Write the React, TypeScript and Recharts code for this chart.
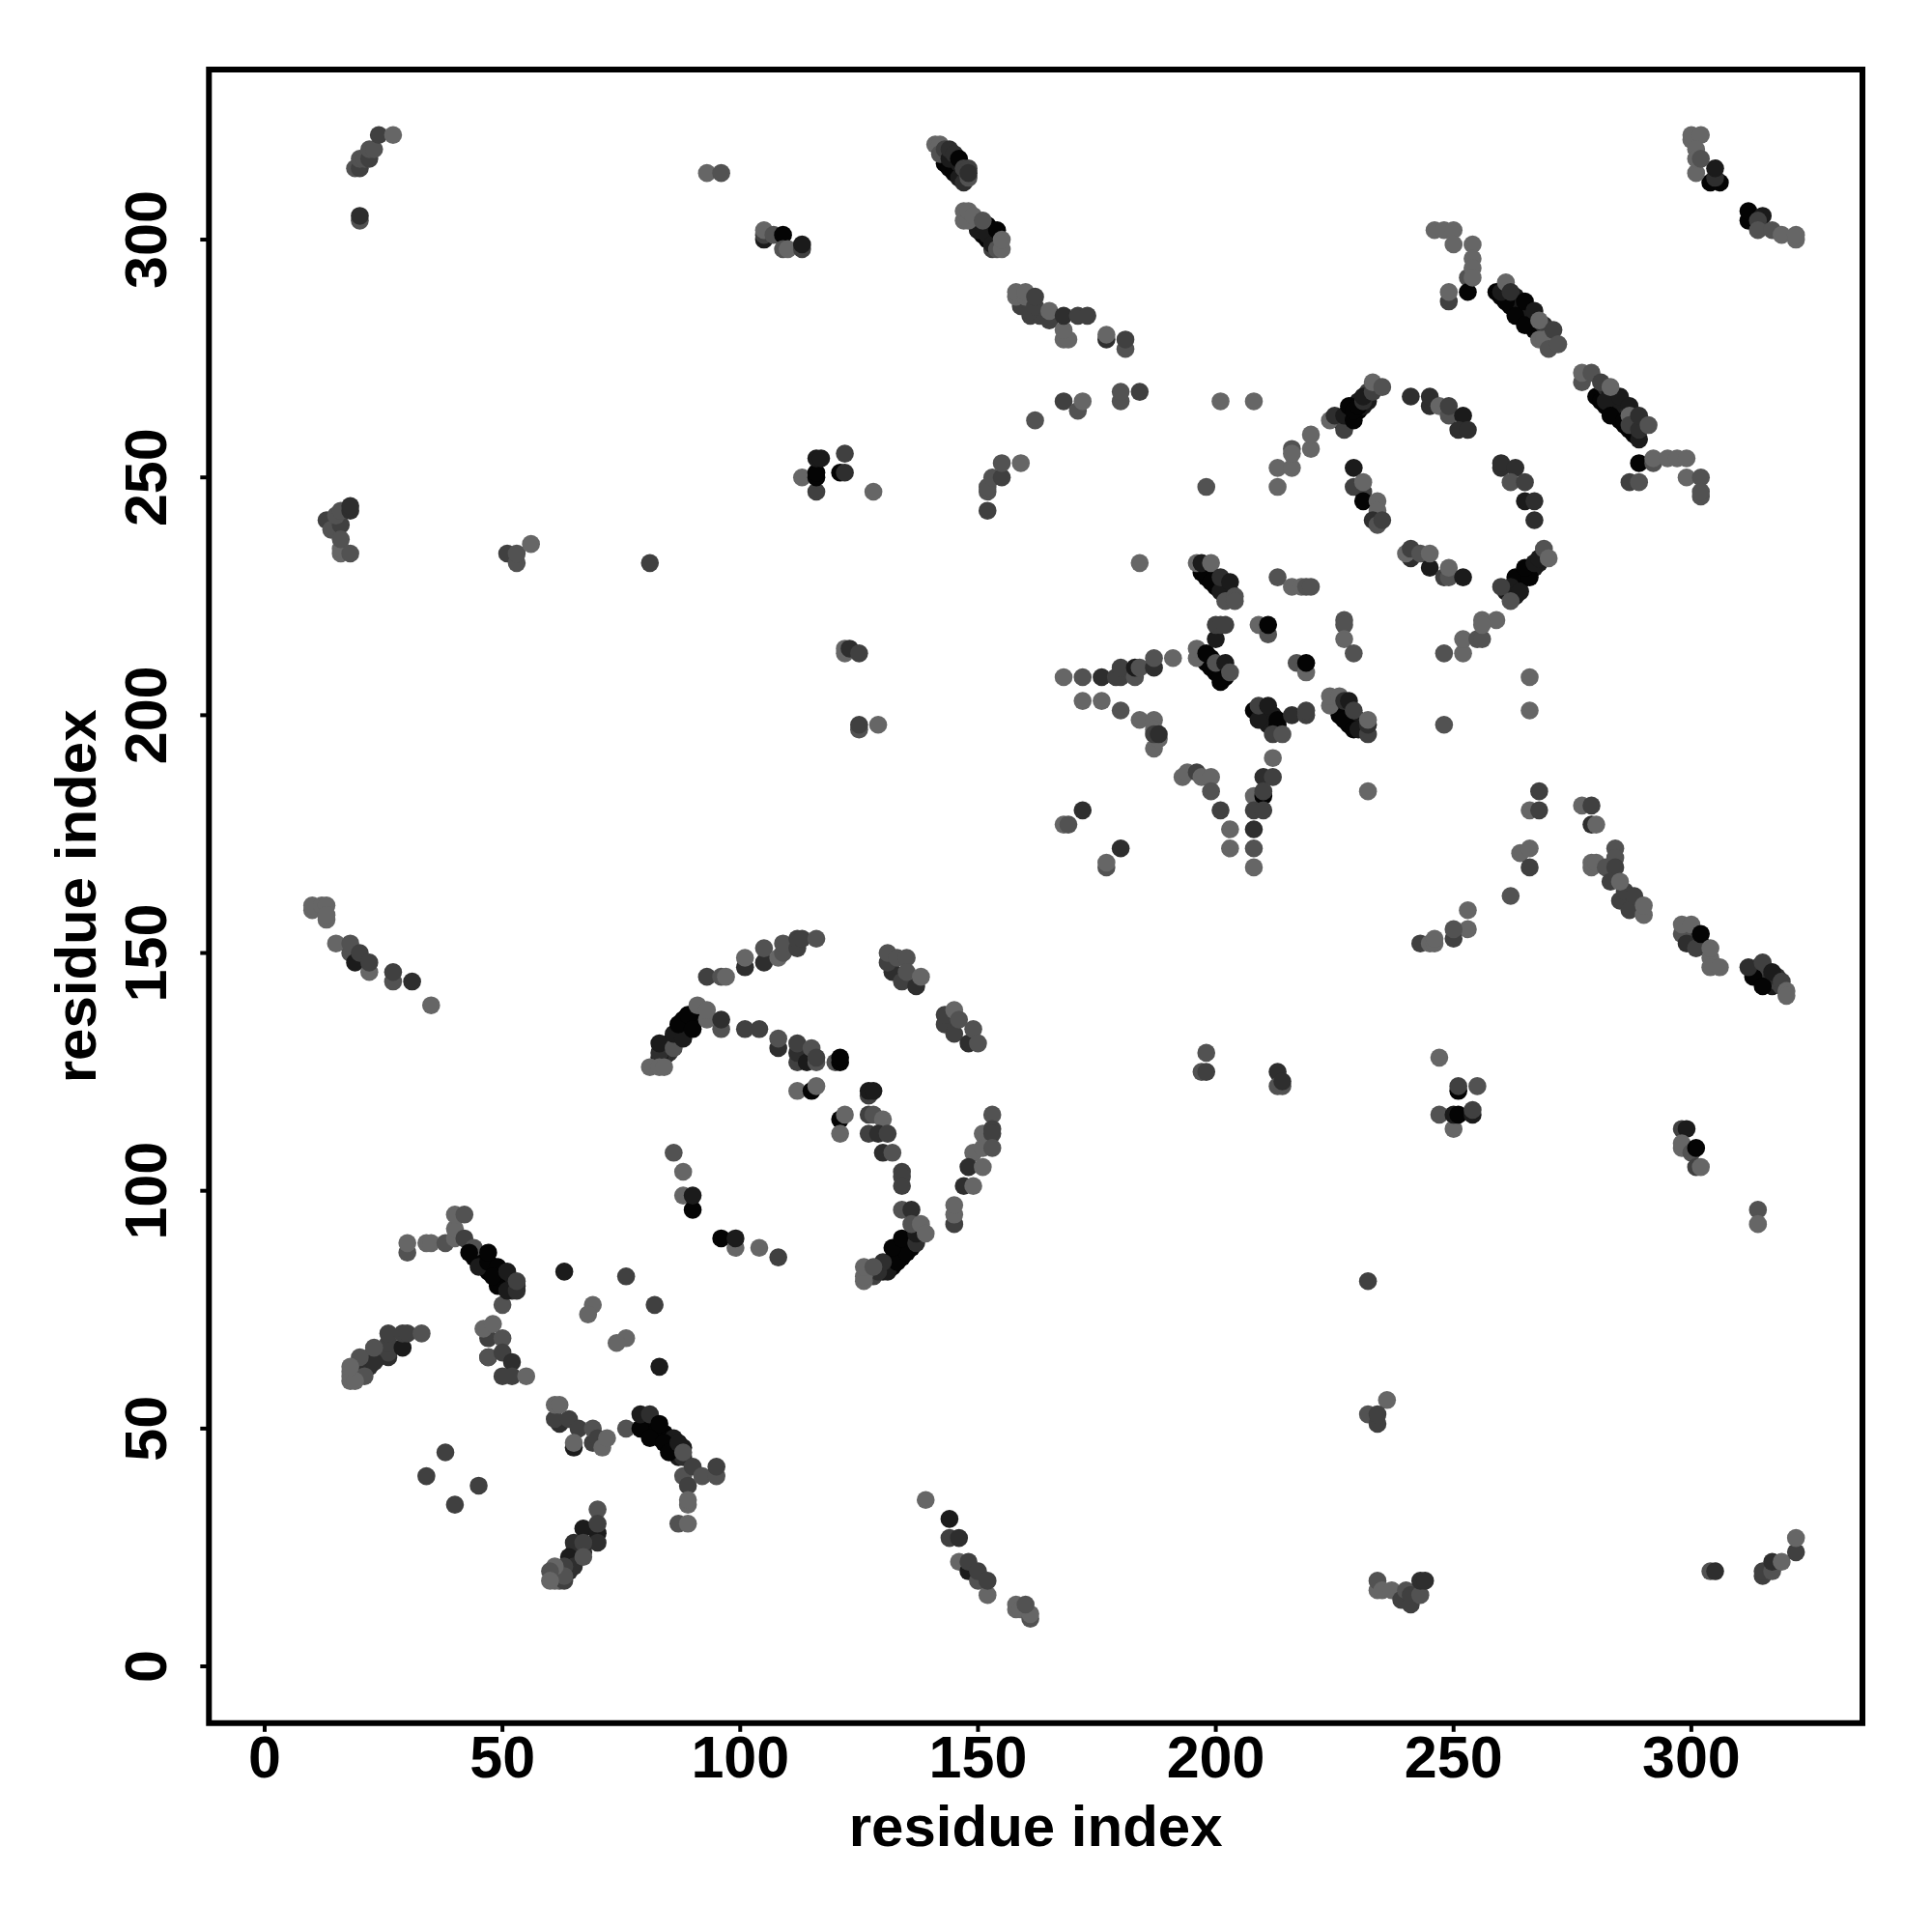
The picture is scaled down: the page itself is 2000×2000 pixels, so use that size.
import { ScatterChart, Scatter, XAxis, YAxis, ReferenceArea, Label } from 'recharts';

// [residue i, residue j, level] - level 0 is the strongest contact (black), 5 the weakest
type Contact = [number, number, number];

const tickValues = [0, 50, 100, 150, 200, 250, 300];
const grays = ['#040404', '#1b1b1b', '#2e2e2e', '#404040', '#525252', '#666666'];
const xDomain = [-11.72, 335.98];
const yDomain = [-11.94, 335.76];

// strong helix contacts that sit underneath the rest of each cluster
const denseBands: Contact[] = [
  [259, 289, 0], [260, 288, 0], [261, 287, 0], [262, 286, 0], [263, 285, 0], [264, 284, 0], [265, 283, 0], [266, 282, 0], [267, 281, 0],
  [263, 288, 1], [264, 287, 1], [266, 285, 1], [267, 284, 1], [269, 282, 2], [270, 281, 3],
  [280, 267, 0], [281, 266, 0], [282, 265, 0], [283, 264, 0], [284, 263, 0], [285, 262, 0], [286, 261, 0], [287, 260, 0], [288, 259, 0], [289, 258, 1],
  [282, 269, 2], [283, 268, 1], [284, 267, 1], [285, 266, 1], [286, 265, 1], [287, 264, 2], [288, 263, 2], [289, 262, 2], [290, 261, 3],
  [143, 317, 0], [144, 316, 0], [145, 315, 0], [146, 314, 0], [147, 313, 1], [145, 317, 1],
  [150, 302, 0], [151, 301, 0], [152, 300, 0], [153, 298, 3], [152, 303, 0], [153, 302, 0],
  [161, 284, 3], [163, 284, 3], [160, 286, 3], [161, 287, 3],
  [226, 262, 0], [227, 261, 1], [228, 262, 0], [229, 263, 0], [230, 264, 0], [231, 265, 1], [232, 266, 1], [228, 264, 0], [229, 265, 0], [230, 266, 1], [232, 268, 3],
  [261, 226, 1], [262, 226, 0], [263, 227, 0], [264, 228, 0], [265, 229, 0], [266, 230, 0], [267, 231, 1], [268, 232, 1], [263, 225, 1],
  [44, 86, 0], [45, 85, 0], [46, 85, 0], [46, 84, 0], [47, 83, 0], [48, 84, 0], [48, 83, 0], [49, 82, 0], [50, 81, 0], [50, 83, 0], [51, 81, 0], [52, 80, 1], [52, 79, 2], [51, 80, 1], [53, 80, 2],
  [84, 130, 1], [85, 131, 0], [86, 132, 0], [87, 133, 0], [88, 134, 0], [89, 135, 0], [90, 136, 0], [88, 136, 0], [87, 132, 2], [85, 129, 2], [84, 128, 2], [83, 128, 1], [86, 131, 3],
  [80, 52, 1], [80, 51, 0], [81, 50, 0], [82, 49, 0], [83, 48, 0], [84, 49, 0], [85, 48, 0], [85, 47, 0], [86, 46, 0], [86, 48, 1], [87, 45, 0], [87, 44, 1], [88, 46, 1], [88, 44, 2],
  [128, 82, 3], [130, 83, 1], [131, 84, 1], [132, 84, 0], [133, 86, 0], [134, 87, 0], [134, 86, 0], [135, 88, 0], [136, 88, 0], [136, 89, 0], [137, 90, 1], [135, 89, 0], [133, 87, 0],
  [61, 19, 4], [62, 19, 4], [62, 20, 3], [63, 20, 3], [64, 21, 2], [64, 22, 2], [65, 23, 2], [66, 24, 1], [66, 25, 2], [62, 18, 4], [61, 18, 5], [65, 24, 2], [67, 24, 2], [64, 20, 2], [65, 22, 3],
  [19, 61, 4], [20, 62, 4], [19, 62, 5], [20, 61, 5], [21, 63, 3], [22, 63, 2], [22, 64, 3], [23, 65, 2], [24, 66, 3], [24, 65, 2], [25, 66, 2], [21, 64, 4], [22, 65, 4], [18, 61, 5], [18, 62, 5],
  [299, 153, 1], [300, 152, 0], [301, 153, 0], [300, 154, 3], [302, 152, 2],
  [314, 146, 0], [315, 145, 0], [316, 144, 0], [317, 143, 1], [316, 146, 2], [318, 144, 3], [318, 145, 2], [314, 147, 3], [319, 143, 3],
  [197, 212, 0], [198, 211, 0], [199, 211, 0], [199, 212, 0], [200, 210, 0], [200, 209, 0], [201, 209, 0], [198, 212, 0], [202, 208, 0], [202, 209, 0],
  [209, 200, 0], [210, 199, 0], [210, 201, 0], [211, 200, 0], [212, 199, 0], [212, 200, 1], [213, 197, 1], [211, 198, 1],
  [197, 230, 0], [198, 229, 0], [199, 229, 0], [200, 228, 0], [200, 227, 0], [201, 227, 0], [202, 226, 1], [202, 228, 1], [203, 226, 3], [198, 231, 1],
  [225, 202, 1], [226, 201, 0], [227, 201, 0], [228, 200, 0], [228, 198, 0], [229, 199, 0], [230, 198, 0], [231, 197, 1], [227, 202, 1], [230, 199, 2], [229, 200, 1], [226, 202, 1],
];

const topLeft: Contact[] = [
  [19, 315, 4], [20, 315, 3], [20, 317, 4], [21, 317, 4], [22, 317, 3], [22, 319, 4], [23, 319, 4], [24, 322, 3], [27, 322, 5],
  [20, 304, 4], [20, 305, 2], [93, 314, 5], [96, 314, 4],
  [13, 241, 3], [14, 239, 4], [16, 240, 3], [15, 242, 4], [16, 243, 4], [16, 234, 5], [16, 235, 5], [16, 237, 4], [18, 234, 4], [18, 243, 2], [18, 244, 2],
  [51, 234, 3], [53, 232, 4], [53, 234, 4], [56, 236, 5], [81, 232, 3],
];

const topMiddle: Contact[] = [
  [105, 300, 1], [105, 301, 3], [105, 302, 5], [107, 301, 4], [109, 301, 0], [109, 298, 4], [110, 298, 5], [113, 298, 3], [113, 299, 1],
  [143, 316, 0], [144, 315, 0], [145, 314, 0], [146, 313, 1], [147, 312, 2], [141, 320, 5], [142, 320, 5], [142, 318, 4], [143, 319, 3], [144, 317, 1], [144, 319, 2], [145, 318, 2], [146, 316, 1], [146, 317, 0], [147, 315, 3], [148, 313, 4], [148, 315, 3], [148, 314, 2],
  [150, 302, 1], [151, 303, 1], [152, 301, 1], [153, 299, 1], [154, 302, 0], [147, 304, 5], [147, 306, 5], [148, 304, 5], [148, 306, 5], [149, 305, 5], [151, 304, 4], [154, 298, 4], [155, 298, 5], [155, 300, 5],
  [159, 286, 3], [161, 285, 3], [165, 283, 3], [158, 288, 5], [158, 289, 5], [160, 288, 5], [160, 289, 5], [162, 286, 3], [162, 288, 3], [165, 285, 5], [168, 279, 5], [169, 279, 5], [168, 281, 5], [168, 284, 2], [171, 284, 3], [173, 284, 3],
  [177, 279, 2], [177, 280, 5], [181, 277, 4], [181, 279, 3],
  [180, 266, 4], [180, 268, 4], [184, 268, 3], [168, 266, 3], [171, 264, 4], [172, 266, 5], [162, 262, 4], [201, 266, 5], [208, 266, 5],
  [198, 248, 4], [213, 248, 5], [213, 252, 5], [216, 252, 5], [216, 256, 4], [216, 255, 5], [220, 256, 5], [220, 259, 5],
  [213, 229, 4], [216, 227, 5], [218, 227, 5], [219, 227, 4], [184, 232, 5],
  [198, 230, 0], [199, 228, 0], [201, 226, 1], [196, 232, 5], [197, 232, 1], [199, 232, 5], [201, 229, 2], [202, 224, 4], [203, 228, 1], [204, 225, 4], [204, 224, 4],
  [113, 250, 5], [116, 247, 3], [116, 250, 0], [116, 251, 0], [116, 254, 1], [117, 254, 1], [121, 251, 0], [122, 251, 2], [122, 255, 3], [128, 247, 5],
  [152, 243, 3], [152, 247, 4], [152, 248, 4], [153, 250, 4], [155, 250, 3], [155, 253, 4], [159, 253, 5],
];

const topRight: Contact[] = [
  [304, 312, 0], [306, 312, 0], [305, 313, 2], [305, 315, 1], [300, 321, 5], [300, 322, 5], [302, 322, 5], [301, 319, 5], [301, 314, 5], [301, 317, 5], [302, 317, 4],
  [312, 304, 0], [312, 306, 0], [315, 305, 1], [314, 304, 3], [314, 302, 4], [317, 302, 4], [319, 301, 5], [322, 300, 5], [322, 301, 5],
  [246, 302, 5], [248, 302, 5], [250, 302, 5], [250, 299, 5], [254, 299, 5], [254, 296, 5], [253, 292, 4], [253, 289, 0], [254, 294, 5], [254, 292, 5], [249, 287, 3], [249, 289, 5],
  [263, 284, 0], [265, 282, 0], [261, 287, 0], [260, 289, 1], [261, 291, 5], [262, 289, 2], [265, 287, 0], [267, 285, 1], [268, 279, 5], [269, 279, 5], [268, 283, 5], [270, 277, 4], [271, 281, 3], [272, 278, 4],
  [277, 270, 4], [277, 272, 5], [279, 272, 4], [282, 266, 1], [283, 263, 0], [286, 262, 0], [281, 270, 3], [285, 267, 1], [283, 269, 5], [287, 265, 1], [287, 263, 5], [287, 261, 3], [289, 260, 2], [289, 263, 2], [291, 261, 4],
  [289, 253, 0], [292, 253, 4], [292, 254, 5], [295, 254, 5], [297, 254, 5], [299, 254, 5], [287, 249, 3], [289, 249, 4], [299, 250, 5], [302, 250, 4], [302, 246, 4], [302, 247, 4],
];

const ringUpper: Contact[] = [
  [224, 262, 5], [225, 263, 2], [227, 260, 3], [227, 263, 1], [228, 265, 0], [229, 262, 0], [229, 264, 0], [230, 265, 0], [231, 266, 2], [231, 267, 1], [233, 268, 3], [233, 270, 5], [235, 269, 4],
  [241, 267, 2], [245, 265, 2], [245, 267, 2], [247, 265, 5], [249, 263, 4], [249, 265, 3], [252, 263, 1], [251, 260, 2], [253, 260, 2],
  [260, 252, 2], [260, 253, 2], [263, 252, 2], [262, 249, 4], [265, 249, 3], [265, 245, 1], [267, 245, 2], [267, 241, 2],
  [229, 252, 1], [229, 248, 3], [231, 247, 3], [231, 249, 5], [231, 245, 0], [234, 245, 5], [234, 243, 5], [233, 241, 2], [234, 240, 4], [235, 241, 3],
  [241, 233, 2], [240, 234, 5], [241, 235, 3], [243, 234, 4], [245, 231, 1], [245, 234, 5], [248, 229, 3], [249, 229, 4], [249, 231, 5], [252, 229, 1],
  [263, 229, 0], [262, 227, 1], [264, 226, 1], [266, 229, 0], [265, 231, 0], [267, 232, 1], [268, 233, 1], [260, 227, 3], [262, 224, 4], [269, 235, 4], [270, 233, 5],
  [220, 227, 4], [227, 220, 4], [256, 220, 5], [259, 220, 5],
];

const leftMiddle: Contact[] = [
  [10, 159, 5], [10, 160, 5], [12, 160, 5], [13, 160, 5], [13, 157, 5], [13, 158, 5],
  [15, 152, 5], [18, 150, 4], [18, 152, 4], [19, 148, 1], [20, 150, 3], [22, 146, 5], [22, 148, 3], [27, 144, 4], [27, 146, 3], [31, 144, 2], [35, 139, 5],
  [83, 129, 2], [83, 131, 1], [86, 130, 4], [81, 126, 5], [83, 126, 5], [84, 126, 5], [86, 133, 1], [88, 132, 1], [87, 135, 0], [89, 137, 0], [90, 134, 0], [91, 139, 5], [93, 136, 5], [93, 138, 5], [96, 134, 4], [96, 136, 2], [101, 134, 3], [104, 134, 3],
  [93, 145, 3], [96, 145, 4], [97, 145, 5], [101, 147, 2], [101, 149, 5], [86, 108, 4], [88, 104, 5],
];

const center: Contact[] = [
  [122, 213, 5], [122, 214, 5], [123, 214, 2], [125, 213, 3], [125, 197, 4], [125, 198, 3], [129, 198, 5],
  [168, 208, 5], [172, 208, 4], [176, 208, 2], [179, 208, 3], [180, 208, 3], [180, 210, 3], [183, 208, 4], [183, 210, 1], [184, 210, 4], [187, 210, 2], [187, 212, 4], [191, 212, 5],
  [172, 203, 5], [176, 203, 5], [180, 201, 4], [184, 199, 5], [187, 199, 5], [187, 197, 5], [187, 193, 5], [188, 195, 5], [187, 196, 3], [188, 196, 2],
  [196, 212, 5], [196, 214, 5], [201, 207, 0], [199, 210, 0], [198, 213, 0], [201, 208, 0], [200, 211, 4], [202, 211, 1], [203, 209, 4], [200, 216, 1], [200, 219, 3], [201, 219, 3], [202, 219, 3],
  [209, 219, 5], [211, 217, 4], [211, 219, 0], [217, 211, 4], [219, 209, 5], [219, 211, 0],
  [208, 201, 0], [209, 199, 1], [209, 202, 3], [211, 202, 1], [213, 198, 0], [213, 199, 0], [216, 200, 2], [219, 200, 3], [219, 201, 3], [212, 196, 3], [214, 196, 4], [212, 191, 5],
  [210, 187, 2], [212, 187, 3], [208, 183, 5], [210, 183, 0], [210, 184, 3], [208, 180, 3], [210, 180, 3], [208, 176, 2], [208, 172, 4], [208, 168, 5],
  [193, 187, 5], [194, 188, 5], [196, 188, 3], [197, 187, 5], [199, 187, 5], [199, 184, 4], [201, 180, 3], [203, 176, 5], [203, 172, 5],
  [172, 180, 2], [168, 177, 5], [169, 177, 4], [180, 172, 2], [177, 168, 4], [177, 169, 5],
  [105, 148, 2], [105, 151, 4], [108, 149, 5], [109, 150, 4], [109, 152, 4], [112, 151, 3], [112, 153, 3], [113, 153, 3], [116, 153, 4],
  [132, 146, 2], [134, 144, 3], [137, 143, 2], [131, 148, 3], [131, 150, 4], [133, 149, 4], [135, 149, 4], [135, 146, 4], [138, 145, 5],
  [143, 135, 3], [145, 133, 3], [148, 131, 2], [143, 137, 3], [145, 138, 5], [146, 136, 4], [149, 134, 4], [150, 131, 4],
  [108, 130, 2], [108, 132, 4], [112, 127, 3], [112, 129, 2], [112, 131, 3], [114, 127, 1], [115, 130, 4], [116, 127, 4], [116, 128, 3], [120, 127, 4], [121, 127, 0], [121, 128, 0],
  [112, 121, 5], [115, 121, 0], [116, 122, 5], [127, 120, 3], [127, 121, 1], [128, 121, 1],
  [121, 115, 0], [122, 116, 5], [121, 112, 5], [127, 116, 3], [128, 116, 4], [130, 115, 5], [127, 112, 3], [129, 112, 2], [131, 112, 3], [130, 108, 2], [132, 108, 4], [134, 104, 3], [134, 103, 3],
  [153, 116, 4], [151, 112, 5], [153, 113, 3], [153, 112, 3], [149, 108, 5], [151, 109, 5], [153, 109, 4], [148, 105, 2], [151, 105, 5],
  [198, 129, 4], [197, 125, 4], [198, 125, 3], [213, 125, 2], [213, 122, 4], [214, 122, 4], [214, 123, 2],
];

const rightMiddle: Contact[] = [
  [227, 219, 4], [227, 216, 5], [229, 213, 4], [248, 213, 4], [252, 213, 5], [252, 216, 5], [255, 216, 4], [256, 216, 4], [256, 219, 5],
  [266, 208, 5], [266, 201, 5], [248, 198, 4], [232, 184, 5],
  [226, 200, 0], [227, 199, 0], [229, 197, 0], [230, 197, 1], [224, 202, 5], [224, 204, 5], [226, 204, 5], [227, 203, 2], [228, 203, 1], [229, 201, 3], [232, 196, 3], [232, 198, 2], [232, 199, 5],
  [268, 184, 3], [266, 180, 5], [268, 180, 3], [277, 181, 5], [279, 181, 3], [279, 177, 2], [280, 177, 5],
  [264, 171, 5], [266, 172, 5], [266, 168, 3], [262, 162, 4],
  [284, 172, 4], [284, 170, 4], [279, 168, 5], [279, 169, 5], [280, 169, 5], [282, 168, 4], [284, 168, 3], [283, 165, 3], [285, 161, 3], [287, 159, 3], [286, 163, 3], [285, 165, 5], [288, 162, 3], [290, 158, 5], [290, 160, 5],
  [253, 159, 5], [253, 155, 5], [250, 153, 3], [250, 155, 4], [243, 152, 3], [245, 152, 5], [246, 152, 5], [246, 153, 5],
  [298, 154, 4], [298, 156, 5], [300, 156, 5], [299, 152, 2], [301, 151, 3], [302, 154, 0], [304, 149, 5], [304, 151, 5], [304, 147, 5], [306, 147, 5],
  [313, 145, 0], [315, 143, 0], [312, 147, 2], [315, 148, 3], [317, 146, 1], [319, 144, 3], [320, 142, 5], [320, 141, 5],
  [247, 128, 5], [251, 121, 0], [251, 122, 3], [255, 122, 4],
  [247, 116, 4], [250, 113, 5], [250, 116, 1], [251, 116, 0], [254, 116, 1], [254, 117, 3],
  [298, 113, 3], [299, 113, 1], [298, 109, 5], [298, 110, 5], [300, 108, 4], [301, 109, 0], [301, 105, 3], [302, 105, 5],
];

const bottomLeft: Contact[] = [
  [88, 99, 5], [90, 96, 0], [90, 99, 1], [96, 90, 0], [99, 88, 5], [99, 90, 1], [104, 88, 5],
  [30, 87, 4], [30, 89, 5], [34, 89, 5], [35, 89, 5], [38, 89, 4], [40, 90, 5], [40, 92, 5], [40, 95, 5], [42, 95, 4], [42, 90, 3], [44, 88, 4],
  [43, 87, 0], [45, 84, 1], [47, 85, 0], [47, 87, 0], [49, 84, 0], [49, 80, 0], [48, 82, 0], [50, 76, 4], [51, 79, 1], [51, 83, 1], [53, 79, 2], [53, 81, 3],
  [26, 65, 2], [26, 66, 3], [26, 68, 3], [26, 70, 3], [29, 67, 1], [29, 70, 3], [30, 70, 3], [33, 70, 4], [21, 62, 2], [23, 64, 2], [21, 61, 4], [20, 65, 4], [23, 67, 4], [18, 60, 5], [19, 60, 5], [18, 63, 5],
  [47, 69, 3], [46, 71, 5], [48, 72, 5], [50, 69, 4], [47, 65, 1], [47, 65, 4], [50, 66, 3], [52, 64, 2], [50, 61, 3], [52, 61, 3], [55, 61, 5],
  [63, 83, 1], [76, 82, 3], [82, 76, 3], [69, 76, 5], [68, 74, 5], [76, 69, 5], [74, 68, 5], [83, 63, 1],
  [62, 51, 2], [61, 52, 3], [64, 52, 3], [61, 55, 5], [62, 55, 5], [65, 46, 1], [66, 50, 3], [65, 47, 5], [69, 47, 3], [69, 50, 4], [70, 48, 3], [71, 46, 5], [72, 48, 5],
  [76, 50, 4], [79, 50, 0], [81, 48, 0], [84, 47, 0], [85, 45, 0], [79, 53, 1], [81, 53, 2], [83, 51, 0], [87, 47, 1], [88, 45, 4], [88, 40, 4], [90, 42, 3], [89, 38, 3], [92, 40, 4], [95, 40, 4], [95, 42, 3], [89, 34, 5], [89, 35, 5], [87, 30, 4], [89, 30, 5],
  [38, 45, 3], [34, 40, 3], [45, 38, 3], [40, 34, 3],
  [70, 33, 4], [67, 29, 1], [70, 28, 1], [70, 30, 3], [65, 26, 2], [70, 26, 2], [67, 26, 3], [64, 23, 1], [65, 21, 2], [67, 23, 4], [63, 21, 3], [63, 18, 3], [63, 19, 4], [61, 21, 5], [60, 20, 4], [60, 18, 5],
];

const bottomMiddle: Contact[] = [
  [134, 101, 3], [134, 96, 4], [136, 96, 2], [145, 93, 3], [145, 95, 5], [145, 97, 5], [147, 101, 2], [149, 101, 5],
  [131, 83, 1], [133, 85, 0], [135, 87, 0], [129, 83, 2], [130, 85, 2], [132, 88, 0], [134, 90, 0], [137, 89, 2], [137, 91, 1], [136, 93, 4], [138, 93, 5], [139, 91, 5],
  [126, 81, 5], [126, 82, 5], [126, 84, 5], [128, 84, 4], [108, 86, 3],
  [139, 35, 5], [144, 31, 1], [144, 27, 3], [146, 27, 2], [146, 22, 5], [148, 20, 1], [148, 22, 3], [150, 18, 4], [150, 20, 3], [152, 15, 5], [152, 18, 3],
  [158, 12, 5], [158, 13, 5], [159, 12, 5], [161, 10, 4], [161, 11, 5], [160, 13, 4],
];

const bottomRight: Contact[] = [
  [314, 96, 4], [314, 93, 5], [232, 81, 3], [236, 56, 5], [232, 53, 4], [234, 51, 3], [234, 53, 3],
  [234, 16, 5], [234, 18, 4], [235, 16, 5], [237, 16, 5], [239, 14, 3], [241, 13, 3], [240, 16, 4], [241, 15, 3], [243, 15, 4], [243, 18, 2], [244, 18, 2],
  [304, 20, 4], [305, 20, 2], [315, 19, 3], [315, 20, 3], [317, 20, 4], [317, 22, 2], [319, 22, 5], [322, 24, 3], [322, 27, 5],
];

const contacts = [
  ...denseBands, ...topLeft, ...topMiddle, ...topRight, ...ringUpper, ...leftMiddle,
  ...center, ...rightMiddle, ...bottomLeft, ...bottomMiddle, ...bottomRight,
].map(([i, j, level]) => ({ i, j, level }));

const font = { fontFamily: '"Liberation Sans", Arial, sans-serif', fontWeight: 700, fontSize: 60, fill: '#000' };
const tickFont = { ...font, fontSize: 61 };

const Dot = (props: any) => (
  <circle cx={props.cx} cy={props.cy} r={9.3} fill={grays[props.payload.level]} />
);

const BottomTick = ({ x, payload }: any) => (
  <text x={x} y={1840} textAnchor="middle" {...tickFont}>{payload.value}</text>
);

const LeftTick = ({ y, payload }: any) => (
  <text transform={`translate(172,${y}) rotate(-90)`} textAnchor="middle" {...tickFont}>{payload.value}</text>
);

export default function App() {
  return (
    <div style={{ margin: '-8px 0 0 -8px', width: 2000, height: 2000, background: '#fff' }}>
      <ScatterChart
        width={2000}
        height={2000}
        margin={{ top: 72, right: 72, bottom: 96.2, left: 96.3 }}
      >
        <XAxis
          type="number"
          dataKey="i"
          domain={xDomain}
          ticks={tickValues}
          allowDataOverflow
          height={120}
          axisLine={false}
          tickLine={{ stroke: '#000', strokeWidth: 4 }}
          tickSize={9}
          tick={<BottomTick />}
          interval={0}
        >
          <Label
            content={({ viewBox }: any) => (
              <text x={viewBox.x + viewBox.width / 2} y={1911} textAnchor="middle" {...font}>residue index</text>
            )}
          />
        </XAxis>
        <YAxis
          type="number"
          dataKey="j"
          domain={yDomain}
          ticks={tickValues}
          allowDataOverflow
          width={120}
          axisLine={false}
          tickLine={{ stroke: '#000', strokeWidth: 4 }}
          tickSize={9}
          tick={<LeftTick />}
          interval={0}
        >
          <Label
            content={({ viewBox }: any) => (
              <text transform={`translate(99,${viewBox.y + viewBox.height / 2}) rotate(-90)`} textAnchor="middle" {...font}>residue index</text>
            )}
          />
        </YAxis>
        <ReferenceArea x1={xDomain[0]} x2={xDomain[1]} y1={yDomain[0]} y2={yDomain[1]} fill="none" stroke="#000" strokeWidth={6} />
        <Scatter data={contacts} shape={Dot} isAnimationActive={false} />
      </ScatterChart>
    </div>
  );
}
